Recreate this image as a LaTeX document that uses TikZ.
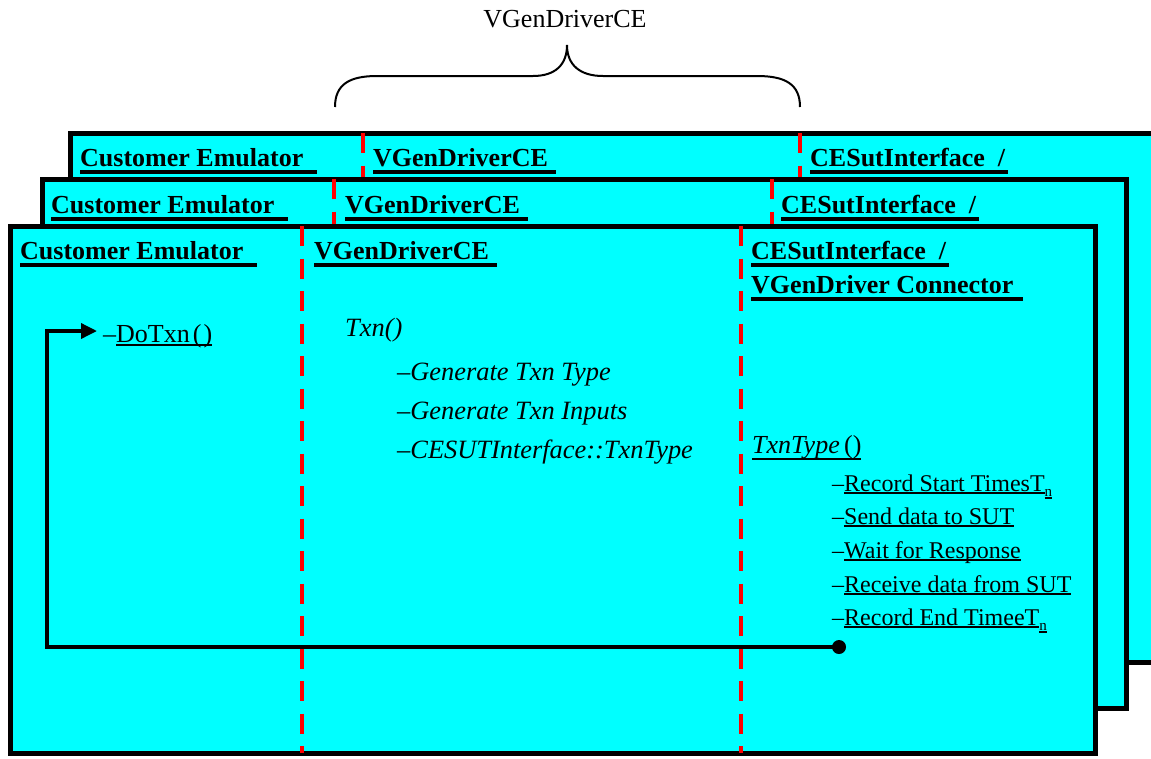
\documentclass[tikz,border=0pt]{standalone}
\usepackage{fontspec}
\setmainfont{Liberation Serif}
\usetikzlibrary{arrows.meta}
\definecolor{boxcyan}{RGB}{0,255,255}
\definecolor{lifered}{RGB}{255,0,0}
\newcommand{\ulbox}[3]{\setbox0=\hbox{#3}\rlap{\vrule height -#1 depth #2 width \wd0}\box0}
\newcommand{\hul}[1]{\ulbox{4pt}{7.5pt}{#1}}
\newcommand{\iul}[1]{\ulbox{1pt}{3pt}{#1}}
\begin{document}
\begin{tikzpicture}[x=1pt,y=-1pt,
  panel/.style={draw=black, line width=5pt, fill=boxcyan},
  lifeline/.style={draw=lifered, line width=4.5pt, dash pattern=on 20pt off 12.5pt},
  hdr/.style={anchor=base west, inner sep=0pt, font=\fontsize{26}{30}\selectfont\bfseries},
  txt/.style={anchor=base west, inner sep=0pt, font=\fontsize{26}{30}\selectfont},
  itxt/.style={anchor=base west, inner sep=0pt, font=\fontsize{26.4}{30}\selectfont\itshape},
  item/.style={anchor=base west, inner sep=0pt, font=\fontsize{24}{28}\selectfont},
  loopline/.style={draw=black, line width=3.5pt},
  bracepath/.style={draw=black, line width=2pt}]
\useasboundingbox (0,0) rectangle (1151,758);
\clip (0,0) rectangle (1151,758);

% top brace
\node[anchor=base, inner sep=0pt, font=\fontsize{26}{30}\selectfont] (title) at (565,27) {VGenDriverCE};
\coordinate (bl) at (335,107);
\coordinate (br) at (800,107);
\coordinate (btip) at (567,45);
\draw[bracepath] (bl) .. controls (335,84) and (350,76) .. (377,76) -- (533,76)
  .. controls (555,76) and (567,65) .. (btip)
  .. controls (567,65) and (580,76) .. (603,76) -- (757,76)
  .. controls (785,76) and (800,84) .. (br);

% back panel
\path[panel] (70,133) rectangle (1175,662);
\coordinate (b1t) at (363,133); \coordinate (b1b) at (363,662);
\coordinate (b2t) at (800,133); \coordinate (b2b) at (800,662);
\draw[lifeline] (b1t) -- (b1b);
\draw[lifeline] (b2t) -- (b2b);
\node[hdr] (bce) at (80,166) {\hul{Customer Emulator\hspace{14pt}}};
\node[hdr] (bvg) at (373,166) {\hul{VGenDriverCE\hspace{8pt}}};
\node[hdr] (bcs) at (810,166) {\hul{CESutInterface\ \ /\hspace{3pt}}};

% middle panel
\path[panel] (42,179) rectangle (1126,708);
\coordinate (m1t) at (334,179); \coordinate (m1b) at (334,708);
\coordinate (m2t) at (772,179); \coordinate (m2b) at (772,708);
\draw[lifeline] (m1t) -- (m1b);
\draw[lifeline] (m2t) -- (m2b);
\node[hdr] (mce) at (51,213) {\hul{Customer Emulator\hspace{14pt}}};
\node[hdr] (mvg) at (345,213) {\hul{VGenDriverCE\hspace{8pt}}};
\node[hdr] (mcs) at (781,213) {\hul{CESutInterface\ \ /\hspace{3pt}}};

% front panel
\path[panel] (10,226) rectangle (1095,753);
\coordinate (f1t) at (302,226); \coordinate (f1b) at (302,753);
\coordinate (f2t) at (741,226); \coordinate (f2b) at (741,753);
\draw[lifeline] (f1t) -- (f1b);
\draw[lifeline] (f2t) -- (f2b);
\node[hdr] (fce) at (20,259) {\hul{Customer Emulator\hspace{14pt}}};
\node[hdr] (fvg) at (314,259) {\hul{VGenDriverCE\hspace{8pt}}};
\node[hdr] (fcs) at (751,259) {\hul{CESutInterface\ \ /\hspace{3pt}}};
\node[hdr] (fcs2) at (751,293) {\hul{VGenDriver Connector\hspace{10pt}}};

% customer emulator
\node[txt] (dotxn) at (103,342) {–\ulbox{2pt}{4pt}{DoTxn\kern3pt(\kern2pt)}};

% VGenDriverCE
\node[itxt] (txn) at (345,336) {Txn()};
\node[itxt] (gen1) at (397,380) {–Generate Txn Type};
\node[itxt] (gen2) at (397,419) {–Generate Txn Inputs};
\node[itxt] (gen3) at (397,458) {–CESUTInterface::TxnType};

% connector
\node[txt] (txntype) at (752,453) {\ulbox{5pt}{7pt}{\itshape TxnType\/\upshape\,()}};
\node[item] (rec1) at (832,491) {–\iul{Record Start TimesT}\raisebox{-5pt}{\iul{\fontsize{15}{15}\selectfont n}}};
\node[item] (send) at (832,524) {–\iul{Send data to SUT}};
\node[item] (wait) at (832,558) {–\iul{Wait for Response}};
\node[item] (recv) at (832,592) {–\iul{Receive data from SUT}};
\node[item] (rec2) at (832,625) {–\iul{Record End TimeeT}\raisebox{-5pt}{\iul{\fontsize{15}{15}\selectfont n}}};

% return loop
\node[circle, fill=black, inner sep=0pt, minimum size=14pt] (ret) at (839,647) {};
\coordinate (lc1) at (47,647);
\coordinate (lc2) at (47,331);
\coordinate (lend) at (97,331);
\draw[loopline, -{Triangle[length=16pt,width=15pt]}] (ret.center) -- (lc1) -- (lc2) -- (lend);
\end{tikzpicture}
\end{document}
